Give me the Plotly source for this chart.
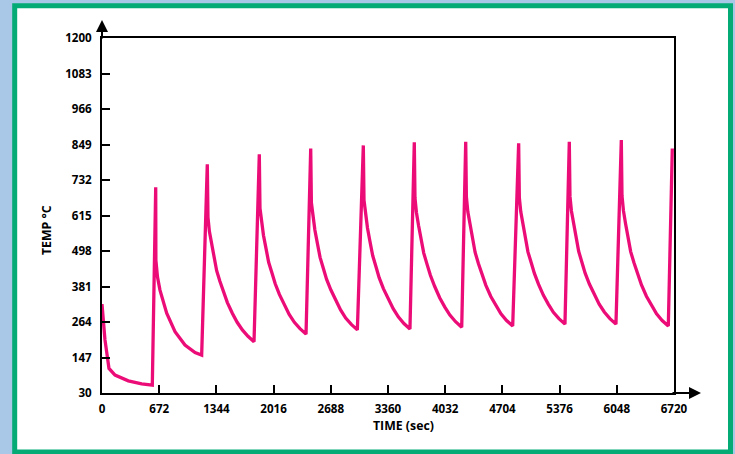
import plotly.graph_objects as go

# ---- data ----
time_s = [0, 35, 82, 153, 309, 466, 591,
          631, 633, 652, 681, 720, 760, 858, 975, 1093, 1171,
          1237, 1245, 1262, 1286, 1314, 1347, 1385, 1424, 1473, 1531, 1588, 1649, 1715, 1786,
          1848, 1856, 1873, 1897, 1925, 1958, 1996, 2035, 2084, 2142, 2199, 2260, 2326, 2397,
          2452, 2460, 2477, 2501, 2529, 2562, 2600, 2638, 2688, 2745, 2803, 2863, 2929, 3000,
          3070, 3078, 3095, 3119, 3147, 3180, 3218, 3256, 3306, 3363, 3421, 3481, 3547, 3618,
          3669, 3677, 3694, 3719, 3747, 3780, 3819, 3858, 3909, 3967, 4026, 4087, 4154, 4226,
          4273, 4281, 4298, 4323, 4350, 4383, 4422, 4461, 4510, 4568, 4626, 4687, 4753, 4825,
          4895, 4903, 4920, 4944, 4971, 5004, 5042, 5080, 5129, 5186, 5243, 5303, 5368, 5439,
          5490, 5498, 5515, 5539, 5567, 5600, 5638, 5676, 5726, 5783, 5841, 5901, 5967, 6038,
          6101, 6109, 6126, 6151, 6178, 6211, 6250, 6289, 6338, 6396, 6454, 6515, 6581, 6653,
          6700]
temp_c = [323, 205, 111, 89, 70, 60, 56,
          708, 468, 412, 369, 328, 293, 232, 188, 163, 155,
          784, 609, 562, 521, 480, 433, 398, 363, 328, 293, 263, 238, 217, 199,
          817, 639, 592, 550, 509, 461, 426, 390, 355, 319, 289, 263, 242, 224,
          836, 657, 609, 567, 525, 477, 441, 405, 370, 334, 304, 277, 256, 238,
          846, 665, 616, 574, 531, 483, 447, 410, 374, 338, 308, 281, 259, 241,
          856, 673, 625, 582, 539, 491, 454, 418, 381, 344, 314, 287, 265, 247,
          858, 676, 627, 585, 542, 494, 457, 421, 385, 348, 318, 291, 269, 251,
          853, 674, 627, 585, 543, 495, 460, 424, 388, 352, 323, 296, 275, 257,
          858, 678, 630, 588, 546, 497, 461, 425, 389, 353, 323, 297, 275, 257,
          864, 680, 631, 588, 545, 496, 459, 423, 386, 349, 318, 291, 269, 251,
          836]

x_ticks = [0, 672, 1344, 2016, 2688, 3360, 4032, 4704, 5376, 6048, 6720]
y_ticks = [30, 147, 264, 381, 498, 615, 732, 849, 966, 1083, 1200]
x_title = "TIME (sec)"
y_title = "TEMP °C"

W, H = 735, 454
L, R, T, B = 102, 61, 38, 61
pw, ph = W - L - R, H - T - B


def px(x):
    return (x - L) / pw


def py(y):
    return (H - B - y) / ph


FONT = "Open Sans"
fig = go.Figure()
fig.add_trace(go.Scatter(x=time_s, y=temp_c, mode="lines",
                         line=dict(color="#EC0C78", width=3.3),
                         hoverinfo="skip", showlegend=False))

axis_common = dict(showline=True, linecolor="black", linewidth=2, mirror=True,
                   ticks="inside", ticklen=8, tickwidth=2, tickcolor="black",
                   showgrid=False, zeroline=False,
                   tickfont=dict(family=FONT, size=11.6, color="black", weight="bold"))

fig.update_xaxes(range=[0, 6720], tickvals=x_ticks, ticktext=[str(v) for v in x_ticks],
                 ticklabelstandoff=4, **axis_common)
fig.update_yaxes(range=[30, 1200], tickvals=y_ticks, ticktext=[str(v) for v in y_ticks],
                 ticklabelstandoff=6, **axis_common)

shapes = [
    # white panel with green frame
    dict(type="rect", xref="paper", yref="paper", layer="below",
         x0=px(14.7), x1=px(730.5), y0=py(452), y1=py(5.8),
         fillcolor="white", line=dict(color="#05AB74", width=5)),
]

annotations = [
    # y-axis arrow
    dict(xref="paper", yref="paper", x=0, y=py(20), ax=0, ay=20, axref="pixel", ayref="pixel",
         showarrow=True, arrowhead=2, arrowsize=1.2, arrowwidth=2, arrowcolor="black", text=""),
    # x-axis arrow
    dict(xref="paper", yref="paper", x=px(701), y=0, ax=-30, ay=0, axref="pixel", ayref="pixel",
         showarrow=True, arrowhead=2, arrowsize=1.2, arrowwidth=2, arrowcolor="black", text=""),
    dict(xref="paper", yref="paper", x=px(403), y=py(425), text=x_title, showarrow=False,
         font=dict(family=FONT, size=12.3, color="black", weight="bold"), xanchor="center", yanchor="middle"),
    dict(xref="paper", yref="paper", x=px(47), y=py(230), text=y_title, showarrow=False, textangle=-90,
         font=dict(family=FONT, size=12.3, color="black", weight="bold"), xanchor="center", yanchor="middle"),
]

fig.update_layout(width=W, height=H, margin=dict(l=L, r=R, t=T, b=B),
                  paper_bgcolor="#A9C8E8", plot_bgcolor="white",
                  shapes=shapes, annotations=annotations)

fig.write_html("out.html", config={"displayModeBar": False},
               post_script="document.body.style.margin='0';document.body.style.overflow='hidden';")
